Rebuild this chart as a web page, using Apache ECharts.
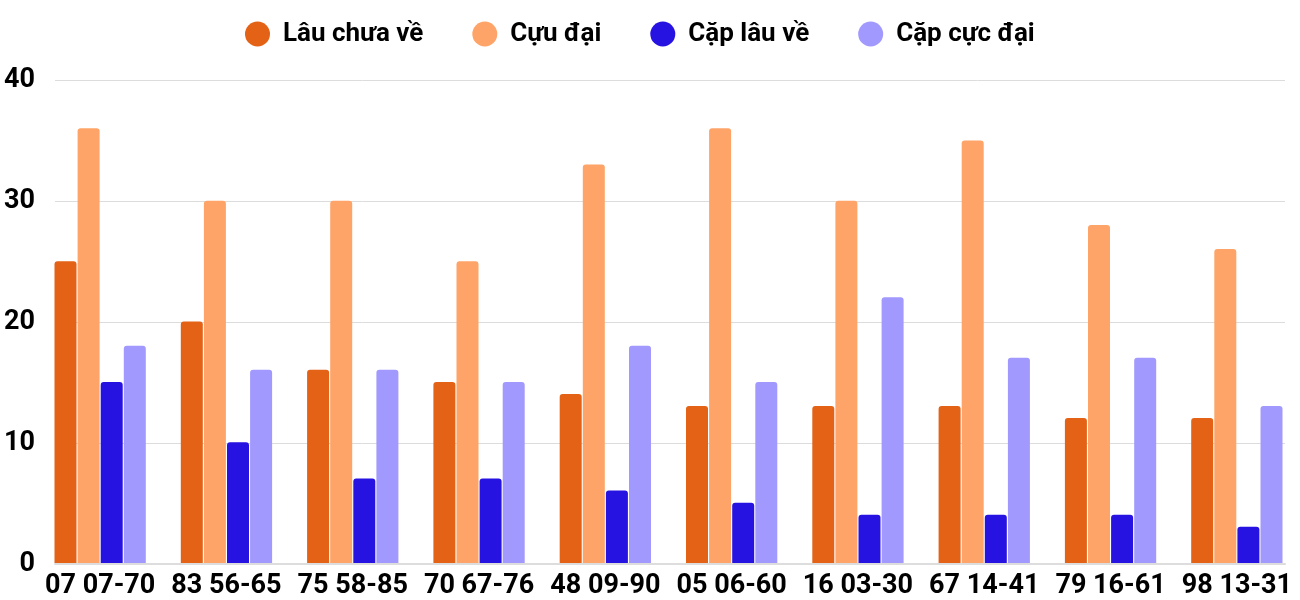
<!DOCTYPE html>
<html><head><meta charset="utf-8">
<script src="https://cdn.jsdelivr.net/npm/echarts@6/dist/echarts.min.js"></script>
<style>html,body{margin:0;padding:0;background:#fff}#c{width:1300px;height:600px}</style>
</head><body><div id="c"></div>
<script>
const categories = ['07 07-70','83 56-65','75 58-85','70 67-76','48 09-90','05 06-60','16 03-30','67 14-41','79 16-61','98 13-31'];
const seriesNames = ['Lâu chưa về','Cựu đại','Cặp lâu về','Cặp cực đại'];
const lauChuaVe = [25,20,16,15,14,13,13,13,12,12];
const cuuDai = [36,30,30,25,33,36,30,35,28,26];
const capLauVe = [15,10,7,7,6,5,4,4,4,3];
const capCucDai = [18,16,16,15,18,15,22,17,17,13];
const yTicks = [0,10,20,30,40];
const colors = ['#E36216','#FFA468','#2612E1','#A199FE'];

const chart = echarts.init(document.getElementById('c'));
const font = 'Roboto';
const dataSets = [lauChuaVe, cuuDai, capLauVe, capCucDai];
chart.setOption({
  animation:false,
  color: colors,
  textStyle:{fontFamily:font},
  legend:{
    top:16, left:240, icon:'circle', itemWidth:25, itemHeight:25, itemGap:49,
    textStyle:{fontFamily:font,fontWeight:'bold',fontSize:26,color:'#000',padding:[0,0,0,8]},
    data: seriesNames
  },
  grid:[
    {left:55, right:15, top:80, bottom:36},
    {left:37, right:-9, top:80, bottom:36}
  ],
  xAxis:[
    {gridIndex:0, type:'category', data:categories, show:true, axisLine:{show:true,lineStyle:{color:'#dddddd',width:2}}, axisTick:{show:false}, axisLabel:{show:false}},
    {gridIndex:1, type:'category', data:categories, axisLine:{show:false}, axisTick:{show:false},
     axisLabel:{interval:0, hideOverlap:false, fontFamily:font,fontWeight:'bold',fontSize:27,color:'#000',margin:10}}
  ],
  yAxis:[
    {gridIndex:0, type:'value', min:yTicks[0], max:yTicks[yTicks.length-1], interval:10,
     axisLine:{show:false}, axisTick:{show:false},
     splitLine:{lineStyle:{color:'#dcdcdc',width:1}},
     axisLabel:{fontFamily:font,fontWeight:'bold',fontSize:27,color:'#000',margin:20}},
    {gridIndex:1, type:'value', min:0, max:40, show:false, splitLine:{show:false}}
  ],
  series: seriesNames.map((n,i)=>({
    name:n, type:'bar', xAxisIndex:1, yAxisIndex:1, data:dataSets[i],
    barWidth:22, barGap:'5%',
    itemStyle:{color:colors[i], borderRadius:[3,3,0,0]}
  }))
});
</script></body></html>
